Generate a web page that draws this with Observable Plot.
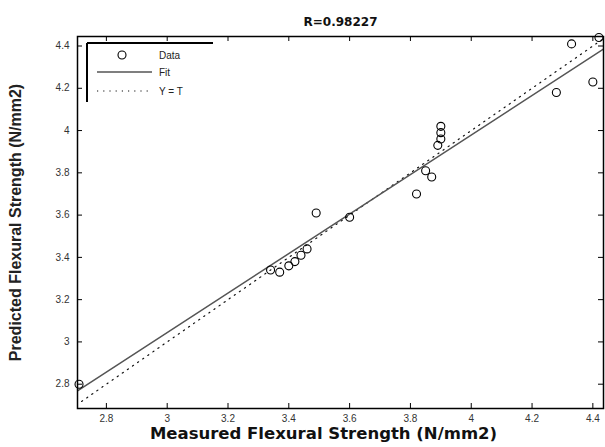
<!DOCTYPE html>
<html>
<head>
<meta charset="utf-8">
<script src="https://cdn.jsdelivr.net/npm/d3@7"></script>
<script src="https://cdn.jsdelivr.net/npm/@observablehq/plot@0.6"></script>
<style>
  html, body { margin: 0; padding: 0; background: #fff; }
  #wrap { position: relative; width: 605px; height: 447px; font-family: "Liberation Sans", Arial, sans-serif; }
  #legend { position: absolute; left: 0; top: 0; pointer-events: none; }
</style>
</head>
<body>
<div id="wrap"></div>
<script>
// ---- data ----
const title = "R=0.98227";
const xLabel = "Measured Flexural Strength (N/mm2)";
const yLabel = "Predicted Flexural Strength (N/mm2)";
const legendLabels = ["Data", "Fit", "Y = T"];

const measured  = [2.71, 3.34, 3.37, 3.40, 3.42, 3.44, 3.46, 3.49, 3.60, 3.82, 3.85, 3.87, 3.89, 3.90, 3.90, 3.90, 4.28, 4.33, 4.40, 4.42];
const predicted = [2.80, 3.34, 3.33, 3.36, 3.38, 3.41, 3.44, 3.61, 3.59, 3.70, 3.81, 3.78, 3.93, 3.96, 3.99, 4.02, 4.18, 4.41, 4.23, 4.44];

const fitSlope = 0.935;
const fitIntercept = 0.239;

const xDomain = [2.705, 4.435];
const yDomain = [2.685, 4.445];
const xTicks = [2.8, 3, 3.2, 3.4, 3.6, 3.8, 4, 4.2, 4.4];
const yTicks = [2.8, 3, 3.2, 3.4, 3.6, 3.8, 4, 4.2, 4.4];

// ---- derived tables ----
const points = measured.map((m, i) => ({x: m, y: predicted[i]}));
const fitLine = xDomain.map(x => ({x, y: fitSlope * x + fitIntercept}));
const identity = [Math.min(xDomain[0], yDomain[0]), Math.max(xDomain[1], yDomain[1])].map(v => ({x: v, y: v}));

const W = 605, H = 447, mL = 77, mR = 2, mT = 36, mB = 39;
const frameW = W - mL - mR, frameH = H - mT - mB;
const tickLen = 5;

const chart = Plot.plot({
  width: W, height: H,
  marginLeft: mL, marginRight: mR, marginTop: mT, marginBottom: mB,
  style: {fontFamily: "'Liberation Sans', Arial, sans-serif", background: "#fff", overflow: "visible"},
  x: {domain: xDomain},
  y: {domain: yDomain},
  marks: [
    // Y = T dotted line
    Plot.line(identity, {x: "x", y: "y", stroke: "#111", strokeWidth: 1.2, strokeDasharray: "1.2,5", clip: true}),
    // Fit line
    Plot.line(fitLine, {x: "x", y: "y", stroke: "#555", strokeWidth: 1.5, clip: true}),
    // Data circles
    Plot.dot(points, {x: "x", y: "y", r: 4, stroke: "#000", strokeWidth: 1.1, fill: "none", clip: false}),
    // inward ticks on all four sides
    Plot.tickX(xTicks, {x: d => d, stroke: "#000", insetTop: frameH - tickLen}),
    Plot.tickX(xTicks, {x: d => d, stroke: "#000", insetBottom: frameH - tickLen}),
    Plot.tickY(yTicks, {y: d => d, stroke: "#000", insetRight: frameW - tickLen}),
    Plot.tickY(yTicks, {y: d => d, stroke: "#000", insetLeft: frameW - tickLen}),
    // tick labels
    Plot.axisX(xTicks, {anchor: "bottom", tickSize: 0, tickPadding: 6, fontSize: 10, fill: "#333", label: null, tickFormat: d => String(d)}),
    Plot.axisY(yTicks, {anchor: "left", tickSize: 0, tickPadding: 8, fontSize: 10, fill: "#333", label: null, tickFormat: d => String(d)}),
    // frame
    Plot.frame({stroke: "#000", strokeWidth: 1.5}),
    // title and axis labels
    Plot.text([title], {text: d => d, frameAnchor: "top", dy: -19, fontSize: 12, fontWeight: "bold", fill: "#111",
      fontFamily: "'DejaVu Sans', sans-serif"}),
    Plot.text([xLabel], {text: d => d, frameAnchor: "bottom", textAnchor: "middle", dx: -17, dy: 30, fontSize: 16.5, fontWeight: "bold", fill: "#111",
      fontFamily: "'DejaVu Sans', sans-serif"}),
    Plot.text([yLabel], {text: d => d, frameAnchor: "left", textAnchor: "middle", rotate: -90, dx: -62, dy: 0, fontSize: 16, fontWeight: "bold", fill: "#222",
      fontFamily: "'Liberation Sans Narrow', 'Liberation Sans', Arial, sans-serif"})
  ]
});

const wrap = document.getElementById("wrap");
wrap.appendChild(chart);

// legend (MATLAB-style box in upper-left corner of the axes)
const ns = "http://www.w3.org/2000/svg";
const lg = document.createElementNS(ns, "svg");
lg.setAttribute("id", "legend");
lg.setAttribute("width", W);
lg.setAttribute("height", H);
const bx = 87, by = 43, bw = 126, bh = 59;
function el(tag, attrs) {
  const e = document.createElementNS(ns, tag);
  for (const k in attrs) e.setAttribute(k, attrs[k]);
  lg.appendChild(e);
  return e;
}
el("rect", {x: bx, y: by, width: bw, height: bh, fill: "#fff", stroke: "none"});
el("line", {x1: bx, y1: by, x2: bx + bw, y2: by, stroke: "#000", "stroke-width": 2});
el("line", {x1: bx, y1: by, x2: bx, y2: by + bh, stroke: "#000", "stroke-width": 2});
el("circle", {cx: 122, cy: 55, r: 4, fill: "none", stroke: "#000", "stroke-width": 1.1});
el("line", {x1: 97, y1: 72, x2: 152, y2: 72, stroke: "#555", "stroke-width": 1.5});
el("line", {x1: 97, y1: 91, x2: 152, y2: 91, stroke: "#111", "stroke-width": 1.2, "stroke-dasharray": "1.2,5"});
const ys = [59, 76, 95];
legendLabels.forEach((t, i) => {
  const tx = el("text", {x: 159, y: ys[i], "font-size": 10, fill: "#222", "font-family": "'Liberation Sans', Arial, sans-serif"});
  tx.textContent = t;
});
wrap.appendChild(lg);
</script>
</body>
</html>
